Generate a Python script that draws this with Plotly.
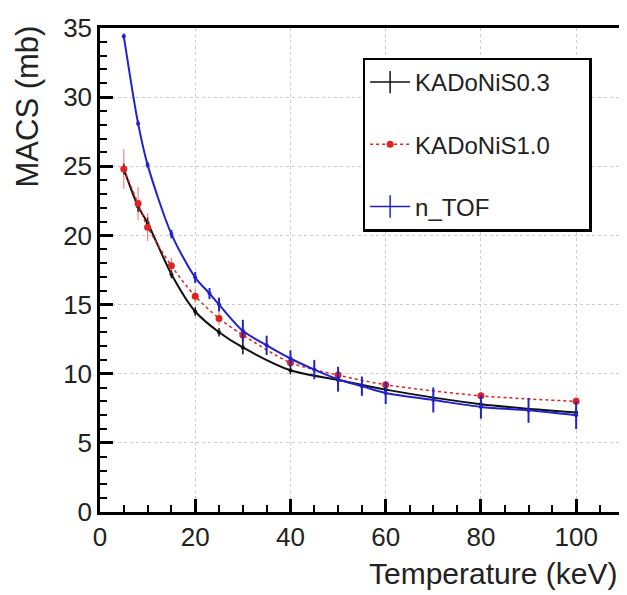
import plotly.graph_objects as go

# ---- data ----
kad_T = [5, 8, 10, 15, 20, 25, 30, 40, 50, 60, 80, 100]
kad03_macs = [24.8, 22.1, 20.9, 17.2, 14.5, 13.0, 11.9, 10.25, 9.55, 8.85, 7.8, 7.2]
kad03_err = [0.4, 0.4, 0.4, 0.3, 0.3, 0.3, 0.5, 0.3, 0.3, 0.3, 0.3, 0.3]
kad10_macs = [24.8, 22.3, 20.6, 17.8, 15.6, 14.0, 12.8, 10.8, 9.9, 9.2, 8.4, 8.0]
kad10_err = [1.45, 1.2, 1.0, 0.6, 0.5, 0.5, 0.5, 0.3, 0.3, 0.3, 0.3, 0.3]
ntof_T = [5, 8, 10, 15, 20, 23, 25, 30, 35, 40, 45, 50, 55, 60, 70, 80, 90, 100]
ntof_macs = [34.4, 28.1, 25.1, 20.1, 16.95, 15.8, 15.0, 13.1, 12.05, 11.1, 10.3, 9.6, 9.1, 8.6, 8.1, 7.6, 7.35, 7.0]
ntof_err = [0.2, 0.2, 0.2, 0.3, 0.4, 0.4, 0.5, 0.8, 0.7, 0.6, 0.7, 0.9, 0.7, 0.8, 0.9, 0.85, 0.9, 1.0]

names = ["KADoNiS0.3", "KADoNiS1.0", "n_TOF"]
BLACK = "#111111"
RED = "#dd2222"
BLUE = "#2222cc"
FONT = "Liberation Sans, Arial, Helvetica, sans-serif"
PAD = "\u00a0" * 5

fig = go.Figure()

# data traces
fig.add_trace(go.Scatter(
    x=kad_T, y=kad03_macs, mode="lines+markers", showlegend=False,
    line=dict(color=BLACK, width=2, shape="spline", smoothing=0.8),
    marker=dict(color=BLACK, size=4),
    error_y=dict(type="data", array=kad03_err, color=BLACK, thickness=1.5, width=0)))
fig.add_trace(go.Scatter(
    x=kad_T, y=kad10_macs, mode="lines+markers", showlegend=False,
    line=dict(color=RED, width=1.5, dash="dot", shape="spline", smoothing=0.8),
    marker=dict(color=RED, size=7),
    error_y=dict(type="data", array=kad10_err, color="rgba(221,34,34,0.55)", thickness=1.2, width=0)))
fig.add_trace(go.Scatter(
    x=ntof_T, y=ntof_macs, mode="lines+markers", showlegend=False,
    line=dict(color=BLUE, width=2, shape="spline", smoothing=0.8),
    marker=dict(color=BLUE, size=4),
    error_y=dict(type="data", array=ntof_err, color=BLUE, thickness=2, width=0)))

# legend-only entries
fig.add_trace(go.Scatter(
    x=[None], y=[None], mode="lines+markers", name=names[0] + PAD, legendgroup="a",
    line=dict(color=BLACK, width=1.5),
    marker=dict(symbol="line-ns", size=16, color=BLACK, line=dict(color=BLACK, width=1.5))))
fig.add_trace(go.Scatter(
    x=[None], y=[None], mode="lines+markers", name=names[1] + PAD, legendgroup="b",
    line=dict(color=RED, width=1.5, dash="dot"),
    marker=dict(symbol="circle", size=7, color=RED)))
fig.add_trace(go.Scatter(
    x=[None], y=[None], mode="lines+markers", name=names[2] + PAD, legendgroup="c",
    line=dict(color=BLUE, width=1.5),
    marker=dict(symbol="line-ns", size=16, color=BLUE, line=dict(color=BLUE, width=1.5))))

axis_common = dict(
    showline=True, linecolor="black", linewidth=2.5, mirror=True,
    ticks="inside", tickcolor="black", tickwidth=2.5, ticklen=13,
    showgrid=True, gridcolor="#cccccc", griddash="dot", gridwidth=1,
    zeroline=False, tickfont=dict(family=FONT, size=26, color="#222222"),
    ticklabeloverflow="allow",
)

fig.update_xaxes(range=[0, 109], dtick=20, tick0=0,
                 minor=dict(dtick=5, ticks="inside", ticklen=7, tickwidth=2, tickcolor="black", showgrid=False),
                 **axis_common)
fig.update_yaxes(range=[0, 35], dtick=5, tick0=0,
                 minor=dict(dtick=1, ticks="inside", ticklen=7, tickwidth=2, tickcolor="black", showgrid=False),
                 **axis_common)

fig.update_layout(
    width=619, height=587,
    margin=dict(l=92, r=5, t=12, b=83),
    plot_bgcolor="white", paper_bgcolor="white",
    font=dict(family=FONT, color="#222222"),
    legend=dict(
        x=0.506, y=0.939, xanchor="left", yanchor="top",
        bgcolor="white", bordercolor="black", borderwidth=2.5,
        font=dict(family=FONT, size=24, color="#222222"),
        traceorder="grouped", tracegroupgap=28, itemwidth=40,
    ),
    annotations=[
        dict(text="MACS (mb)", textangle=-90, xref="paper", yref="paper",
             x=-0.14, y=1.01, xanchor="center", yanchor="top", showarrow=False,
             font=dict(family=FONT, size=31, color="#222222")),
        dict(text="Temperature (keV)", xref="paper", yref="paper",
             x=1.0, y=-0.128, xanchor="right", yanchor="middle", showarrow=False,
             font=dict(family=FONT, size=30, color="#222222")),
    ],
)

fig.write_html("out.html")
